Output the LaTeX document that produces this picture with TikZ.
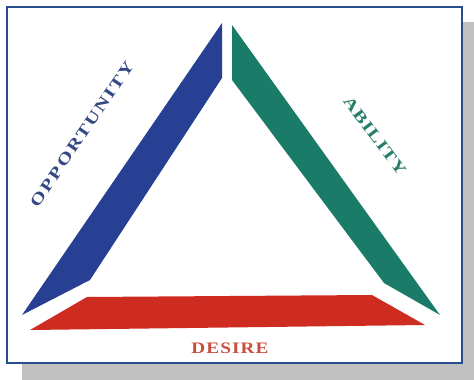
\documentclass[tikz,border=0pt]{standalone}
\usepackage{fontspec}
\setmainfont{Liberation Serif}
\definecolor{frameblue}{RGB}{38,78,140}
\definecolor{shadowgray}{RGB}{192,192,192}
\definecolor{navyband}{RGB}{40,64,148}
\definecolor{tealband}{RGB}{26,124,104}
\definecolor{redband}{RGB}{206,44,32}
\definecolor{opptext}{RGB}{52,72,132}
\definecolor{abltext}{RGB}{40,126,108}
\definecolor{destext}{RGB}{200,78,64}
\tikzset{
  label text/.style={inner sep=0pt}
}
\begin{document}
\begin{tikzpicture}[x=1pt,y=-1pt]
\useasboundingbox (0,0) rectangle (474,380);
\fill[white] (0,0) rectangle (474,380);
% shadow and frame
\fill[shadowgray] (22,22) rectangle (474,380);
\draw[frameblue, line width=2pt, fill=white] (7,7) rectangle (462,363);
% opportunity band
\fill[navyband] (222,23) -- (222,78) -- (90,280) -- (22,315) -- cycle;
% ability band
\fill[tealband] (232,25) -- (232,80) -- (384,283) -- (440,315) -- cycle;
% desire band
\fill[redband] (87,297) -- (372,295) -- (425,325) -- (30,330) -- cycle;
% labels
\node[label text, text=opptext, rotate=55.8, font=\bfseries\fontsize{16}{16}\selectfont\addfontfeature{FakeStretch=1.3,LetterSpace=12}]
  (opp) at (82,134) {OPPORTUNITY};
\node[label text, text=abltext, rotate=-53, font=\bfseries\fontsize{16}{16}\selectfont\addfontfeature{FakeStretch=1.3,LetterSpace=6}]
  (abl) at (375,136) {ABILITY};
\node[label text, text=destext, font=\bfseries\fontsize{16}{16}\selectfont\addfontfeature{FakeStretch=1.2,LetterSpace=7}]
  (des) at (230,348) {DESIRE};
\end{tikzpicture}
\end{document}
